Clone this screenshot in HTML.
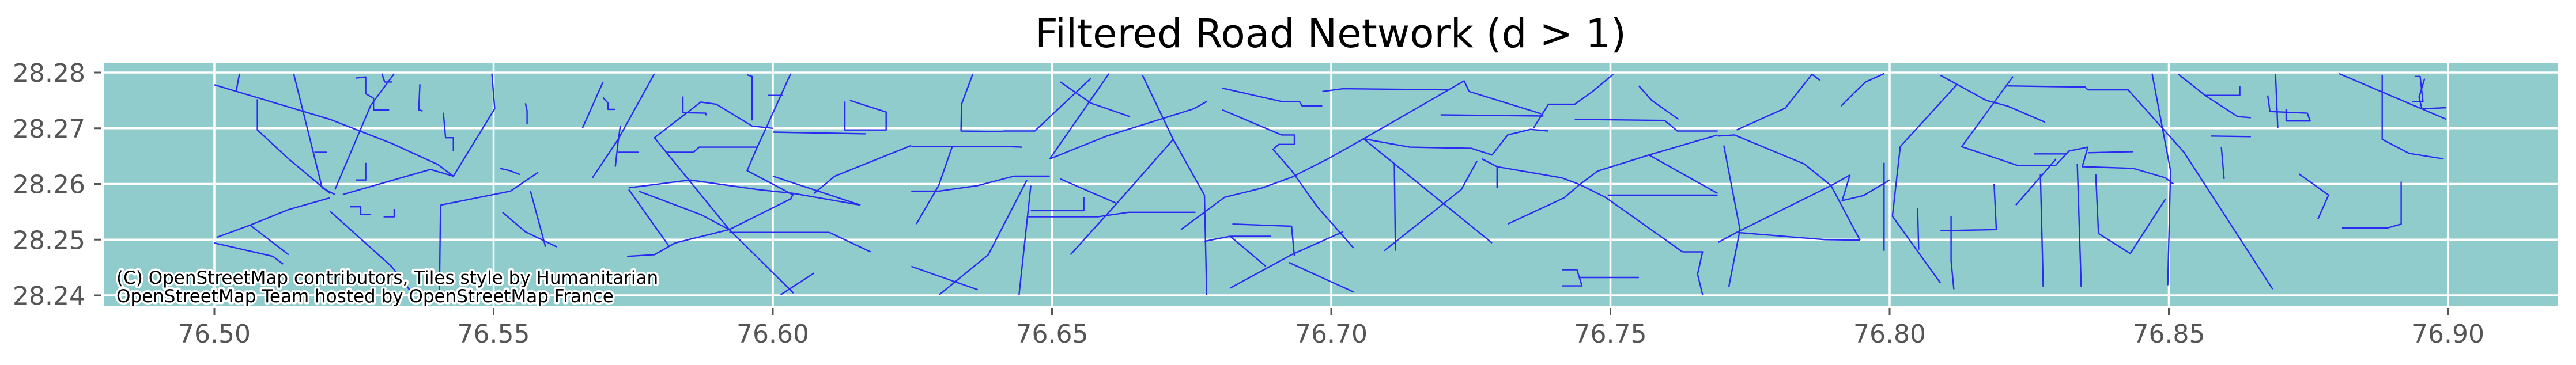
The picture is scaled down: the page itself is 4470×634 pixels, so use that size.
<!DOCTYPE html>
<html><head><meta charset="utf-8"><style>
html,body{margin:0;padding:0;background:#fff;}
svg{display:block;font-family:"DejaVu Sans","Liberation Sans",sans-serif;}
</style></head><body>
<svg id="chart" width="4470" height="634" viewBox="0 0 4470 634">
<defs><clipPath id="axclip"><rect x="180" y="109" width="4258" height="422"/></clipPath></defs>
<text x="2309" y="82" font-size="69" text-anchor="middle" fill="#000">Filtered Road Network (d &gt; 1)</text>
<rect x="180" y="109" width="4258" height="422" fill="#90cccc"/>
<g id="grid"></g>
<g id="roads" clip-path="url(#axclip)"></g>
<g id="axes"></g>
<g font-size="31" fill="#000" stroke="#fff" stroke-width="7" paint-order="stroke" stroke-linejoin="round">
<text x="202" y="493">(C) OpenStreetMap contributors, Tiles style by Humanitarian</text>
<text x="202" y="525">OpenStreetMap Team hosted by OpenStreetMap France</text>
</g>
</svg>
<script>
const xTicks = [76.50, 76.55, 76.60, 76.65, 76.70, 76.75, 76.80, 76.85, 76.90];
const xTickLabels = ["76.50","76.55","76.60","76.65","76.70","76.75","76.80","76.85","76.90"];
const yTicks = [28.28, 28.27, 28.26, 28.25, 28.24];
const yTickLabels = ["28.28","28.27","28.26","28.25","28.24"];
const roads = [
[[76.500,28.2778],[76.504,28.2766],[76.5207,28.2716],[76.5317,28.2673],[76.540,28.2635],[76.5428,28.2614]],
[[76.5142,28.2798],[76.5193,28.2593],[76.5216,28.2581]],
[[76.5045,28.2798],[76.5039,28.2766]],
[[76.5077,28.2752],[76.5077,28.2697],[76.5133,28.2645],[76.5207,28.2583]],
[[76.5322,28.2798],[76.528,28.2741],[76.5216,28.259]],
[[76.523,28.2581],[76.5387,28.2626],[76.5428,28.2614],[76.5502,28.2735],[76.5497,28.2798]],
[[76.5207,28.2575],[76.5133,28.2554],[76.5064,28.2526],[76.5004,28.2504]],
[[76.5064,28.2526],[76.5133,28.2473]],
[[76.5207,28.2551],[76.5317,28.2452],[76.5354,28.2404]],
[[76.500,28.2494],[76.5105,28.2470],[76.5123,28.2456]],
[[76.5405,28.2562],[76.5403,28.2401]],
[[76.5405,28.2562],[76.553,28.2587],[76.558,28.2621]],
[[76.5516,28.2549],[76.5557,28.2514],[76.5613,28.2487]],
[[76.5566,28.2587],[76.5593,28.2487]],
[[76.5788,28.2798],[76.5723,28.268],[76.5677,28.2611]],
[[76.5696,28.2783],[76.5659,28.270]],
[[76.5742,28.2593],[76.5852,28.2607],[76.5972,28.2590],[76.6037,28.2583],[76.6157,28.2562]],
[[76.5788,28.2683],[76.5871,28.2747],[76.5899,28.2743],[76.5963,28.2704],[76.600,28.270]],
[[76.5788,28.2683],[76.5922,28.2518],[76.6037,28.2404]],
[[76.5739,28.2470],[76.5788,28.2473],[76.5825,28.2494],[76.5922,28.2518],[76.6032,28.2573],[76.6037,28.2583]],
[[76.6032,28.2798],[76.5991,28.2707],[76.5972,28.2666],[76.5954,28.2624],[76.6037,28.2580]],
[[76.5922,28.2513],[76.6101,28.2513]],
[[76.6129,28.2748],[76.6129,28.2697],[76.6203,28.2697],[76.6203,28.2729],[76.6138,28.2750]],
[[76.600,28.2693],[76.6166,28.2690]],
[[76.5808,28.2657],[76.5858,28.2657],[76.5868,28.2666],[76.5972,28.2666]],
[[76.6074,28.2583],[76.6111,28.2614],[76.6248,28.2669]],
[[76.576,28.2587],[76.5871,28.2545],[76.5922,28.2518]],
[[76.5742,28.2590],[76.5815,28.2487]],
[[76.6101,28.2513],[76.6175,28.2478]],
[[76.600,28.2614],[76.6157,28.2562]],
[[76.6074,28.2440],[76.6014,28.2401]],
[[76.5179,28.2657],[76.5202,28.2657]],
[[76.5253,28.279],[76.5271,28.2792],[76.5271,28.2762],[76.5285,28.2754],[76.5285,28.2733],[76.5313,28.2733]],
[[76.5300,28.2798],[76.5305,28.2783],[76.5318,28.2783]],
[[76.5368,28.2779],[76.5366,28.2733],[76.5373,28.2731]],
[[76.541,28.2728],[76.5414,28.2683],[76.5428,28.2683],[76.5428,28.2659]],
[[76.5557,28.2745],[76.5560,28.2731],[76.5560,28.2707]],
[[76.5253,28.2607],[76.5271,28.2607],[76.5271,28.2638]],
[[76.5243,28.2559],[76.5262,28.2559],[76.5262,28.2545],[76.5280,28.2545]],
[[76.5303,28.2541],[76.5322,28.2541],[76.5322,28.2555]],
[[76.5511,28.2628],[76.5529,28.2624],[76.5547,28.2617]],
[[76.5954,28.2796],[76.5963,28.2793],[76.5963,28.2714]],
[[76.5991,28.2759],[76.6018,28.2759]],
[[76.5839,28.2757],[76.5839,28.2728],[76.588,28.2727],[76.588,28.2723]],
[[76.5696,28.2755],[76.5705,28.2745],[76.5705,28.2734],[76.5718,28.2734]],
[[76.5727,28.2705],[76.5723,28.2676],[76.5718,28.2631]],
[[76.5723,28.2657],[76.5760,28.2657]],
[[76.6248,28.2667],[76.6423,28.2667],[76.6446,28.2666]],
[[76.6248,28.2587],[76.6297,28.2587],[76.6367,28.2597],[76.6432,28.2614],[76.6496,28.2614]],
[[76.6321,28.2666],[76.6297,28.2597],[76.6257,28.2528]],
[[76.6455,28.2607],[76.6386,28.2473],[76.6298,28.2401]],
[[76.6462,28.2597],[76.6441,28.2401]],
[[76.6248,28.2452],[76.6367,28.2410]],
[[76.6496,28.2645],[76.6598,28.2686],[76.6754,28.2735],[76.6777,28.2748]],
[[76.6515,28.2783],[76.657,28.2745],[76.6639,28.2721]],
[[76.6602,28.2798],[76.6496,28.2645]],
[[76.6570,28.2790],[76.6469,28.2695],[76.6413,28.2695]],
[[76.6515,28.2609],[76.6616,28.2565],[76.6717,28.268],[76.6662,28.2795]],
[[76.6717,28.268],[76.6773,28.2580],[76.6777,28.2401]],
[[76.6616,28.2565],[76.6533,28.2473]],
[[76.6462,28.2552],[76.6557,28.2552],[76.6557,28.2576]],
[[76.6457,28.2541],[76.6582,28.2541],[76.6637,28.2549],[76.6757,28.2549]],
[[76.6731,28.2518],[76.6809,28.2576],[76.6874,28.2592],[76.6929,28.2612],[76.6994,28.2645],[76.7058,28.2681],[76.7238,28.2785],[76.7247,28.2766],[76.7376,28.2726]],
[[76.7058,28.2681],[76.7141,28.2666],[76.7251,28.2664],[76.7288,28.2652],[76.7316,28.2688],[76.7357,28.2698],[76.7389,28.2695]],
[[76.7058,28.2681],[76.7288,28.2494]],
[[76.7021,28.2514],[76.6929,28.2473],[76.6819,28.2413]],
[[76.6805,28.2733],[76.6911,28.2688],[76.6934,28.2688],[76.6934,28.2671],[76.6906,28.2671],[76.6896,28.2662],[76.6929,28.2624],[76.6975,28.2559],[76.7040,28.2485]],
[[76.6805,28.2772],[76.6911,28.2748],[76.6943,28.2748],[76.6948,28.274],[76.6984,28.274]],
[[76.6984,28.2766],[76.7021,28.2771],[76.721,28.2769]],
[[76.6773,28.2497],[76.6819,28.2506],[76.6892,28.2506]],
[[76.6819,28.2506],[76.6883,28.2452]],
[[76.6823,28.2528],[76.6929,28.2524],[76.6934,28.2471]],
[[76.6924,28.2459],[76.7040,28.2406]],
[[76.7196,28.2724],[76.7380,28.2722]],
[[76.7436,28.2716],[76.7597,28.2714],[76.762,28.2695],[76.7692,28.2695]],
[[76.7692,28.2688],[76.7569,28.2652],[76.7477,28.2623],[76.7445,28.2599],[76.7417,28.2575],[76.7316,28.2528]],
[[76.727,28.2645],[76.7297,28.2631],[76.7413,28.2611],[76.7445,28.2599],[76.7491,28.2576],[76.7629,28.2478]],
[[76.7569,28.2652],[76.7692,28.2583]],
[[76.7495,28.2580],[76.7692,28.2580]],
[[76.7261,28.2641],[76.7233,28.2590],[76.7095,28.2480]],
[[76.7505,28.2797],[76.7468,28.2766],[76.7436,28.2743],[76.7389,28.2743],[76.7362,28.270]],
[[76.7551,28.2776],[76.7574,28.2750],[76.7622,28.2716]],
[[76.7413,28.2446],[76.7440,28.2446],[76.7449,28.2417],[76.7413,28.2417]],
[[76.7445,28.2432],[76.7551,28.2432]],
[[76.7629,28.2478],[76.7665,28.2478],[76.7656,28.2438],[76.7665,28.2401]],
[[76.6358,28.2797],[76.6338,28.2743],[76.6337,28.2695],[76.6413,28.2694]],
[[76.7113,28.2638],[76.7115,28.2480]],
[[76.7297,28.2631],[76.7297,28.2593]],
[[76.7693,28.2686],[76.7722,28.2688],[76.7847,28.2636],[76.7895,28.2597],[76.7947,28.2499]],
[[76.7693,28.2495],[76.7726,28.2513],[76.7895,28.2597],[76.7929,28.2616]],
[[76.7726,28.2513],[76.7884,28.2500],[76.7947,28.2499]],
[[76.7726,28.2697],[76.7813,28.2736],[76.7861,28.2797],[76.7875,28.2786]],
[[76.7703,28.2669],[76.7732,28.2518],[76.7712,28.2415]],
[[76.7929,28.2616],[76.7915,28.2570],[76.7953,28.2579],[76.8000,28.2607]],
[[76.7990,28.2798],[76.7957,28.2783],[76.7937,28.2764],[76.7913,28.2740]],
[[76.8091,28.2795],[76.8173,28.275],[76.8211,28.2740],[76.8278,28.2711]],
[[76.812,28.2778],[76.8019,28.2667],[76.8005,28.2542],[76.8091,28.2422]],
[[76.8221,28.2793],[76.8129,28.2667],[76.823,28.2633],[76.8297,28.2633],[76.8321,28.2659],[76.8355,28.2666],[76.8345,28.2631],[76.8436,28.2628],[76.8494,28.2611],[76.8508,28.2600]],
[[76.8211,28.2776],[76.835,28.2774],[76.8355,28.2769],[76.8427,28.2769],[76.8527,28.2657],[76.8686,28.2411]],
[[76.847,28.2798],[76.8503,28.2624],[76.8498,28.2418]],
[[76.8494,28.2573],[76.8431,28.2475],[76.8374,28.2511],[76.8369,28.2618]],
[[76.8336,28.2636],[76.8343,28.2415]],
[[76.8270,28.2618],[76.8275,28.2415]],
[[76.8226,28.2562],[76.8298,28.2645]],
[[76.8110,28.2542],[76.8110,28.2462],[76.8115,28.2411]],
[[76.8187,28.2600],[76.8191,28.2518],[76.8091,28.2516]],
[[76.8517,28.2797],[76.8565,28.2759],[76.8627,28.2759],[76.8627,28.2776]],
[[76.8565,28.2759],[76.8623,28.2721],[76.8647,28.2719]],
[[76.8691,28.2797],[76.8695,28.2700]],
[[76.8677,28.2759],[76.8681,28.2730],[76.8748,28.2727],[76.8753,28.2713],[76.8710,28.2713],[76.8710,28.2734]],
[[76.8805,28.2798],[76.8997,28.2716]],
[[76.8882,28.2796],[76.8882,28.2680],[76.893,28.2655],[76.8992,28.2645]],
[[76.8916,28.2604],[76.8916,28.2528],[76.8892,28.2521],[76.881,28.2521]],
[[76.8733,28.2618],[76.8786,28.2580],[76.8767,28.2537]],
[[76.8575,28.2686],[76.8647,28.2685]],
[[76.8594,28.2666],[76.8599,28.2609]],
[[76.8958,28.2789],[76.8948,28.2756],[76.8953,28.2735],[76.8997,28.2737]],
[[76.8940,28.2793],[76.8950,28.2793],[76.8955,28.2748],[76.8936,28.2748]],
[[76.8258,28.2654],[76.8316,28.2654]],
[[76.8355,28.2656],[76.8436,28.2658]],
[[76.7990,28.2638],[76.7990,28.2480]],
[[76.8050,28.2556],[76.8052,28.2482]]
];

const X0 = 372, XS = 9690;   // px per degree lon
const Y0 = 126, YS = 9675;   // px per degree lat
function sx(lon){ return X0 + (lon - 76.50) * XS; }
function sy(lat){ return Y0 + (28.28 - lat) * YS; }
const NS = "http://www.w3.org/2000/svg";

const grid = document.getElementById('grid');
xTicks.forEach((t,i)=>{
  const l = document.createElementNS(NS,'line');
  l.setAttribute('x1', sx(t)); l.setAttribute('x2', sx(t));
  l.setAttribute('y1', 109); l.setAttribute('y2', 531);
  l.setAttribute('stroke','#fff'); l.setAttribute('stroke-width','3.5');
  
  
  grid.appendChild(l);
});
yTicks.forEach((t,i)=>{
  const l = document.createElementNS(NS,'line');
  l.setAttribute('x1', 180); l.setAttribute('x2', 4438);
  l.setAttribute('y1', sy(t)); l.setAttribute('y2', sy(t));
  l.setAttribute('stroke','#fff'); l.setAttribute('stroke-width','3.5');
  
  
  grid.appendChild(l);
});

const rg = document.getElementById('roads');
roads.forEach((r,i)=>{
  const p = document.createElementNS(NS,'polyline');
  p.setAttribute('points', r.map(pt => sx(pt[0]).toFixed(1)+','+sy(pt[1]).toFixed(1)).join(' '));
  p.setAttribute('fill','none'); p.setAttribute('stroke','#2a2af2');
  p.setAttribute('stroke-width','2.4'); p.setAttribute('stroke-linejoin','round');
  
  
  rg.appendChild(p);
});

const ax = document.getElementById('axes');
xTicks.forEach((t,i)=>{
  const m = document.createElementNS(NS,'line');
  m.setAttribute('x1', sx(t)); m.setAttribute('x2', sx(t));
  m.setAttribute('y1', 535); m.setAttribute('y2', 548);
  m.setAttribute('stroke','#555'); m.setAttribute('stroke-width','3');
  
  
  ax.appendChild(m);
  const tx = document.createElementNS(NS,'text');
  tx.setAttribute('x', sx(t)); tx.setAttribute('y', 595);
  tx.setAttribute('font-size','44'); tx.setAttribute('fill','#555');
  tx.setAttribute('text-anchor','middle');
  tx.textContent = xTickLabels[i];
  
  
  ax.appendChild(tx);
});
yTicks.forEach((t,i)=>{
  const m = document.createElementNS(NS,'line');
  m.setAttribute('x1', 163); m.setAttribute('x2', 176);
  m.setAttribute('y1', sy(t)); m.setAttribute('y2', sy(t));
  m.setAttribute('stroke','#555'); m.setAttribute('stroke-width','3');
  
  
  ax.appendChild(m);
  const tx = document.createElementNS(NS,'text');
  tx.setAttribute('x', 148); tx.setAttribute('y', sy(t) + 16);
  tx.setAttribute('font-size','44'); tx.setAttribute('fill','#555');
  tx.setAttribute('text-anchor','end');
  tx.textContent = yTickLabels[i];
  
  
  ax.appendChild(tx);
});
</script>
</body></html>
